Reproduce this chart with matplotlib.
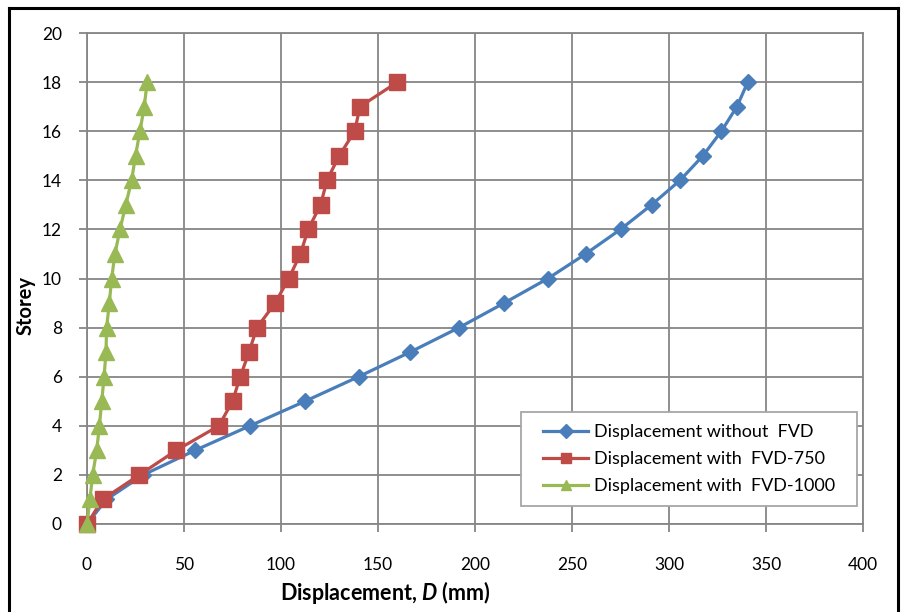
import matplotlib.pyplot as plt
from matplotlib.lines import Line2D
from matplotlib.patches import Rectangle

storey = list(range(19))
disp_none = [0, 10, 29, 55.7, 84, 112.4, 140, 166.5, 191.8, 215, 237.6,
             257, 275, 291, 305.7, 317.5, 327, 335, 340.6]
disp_750 = [0, 8, 27, 46, 68, 75, 79, 83.5, 87.6, 97, 104,
            110, 114, 120.4, 123.7, 130, 138, 140.7, 160]
disp_1000 = [0, 1.5, 2.9, 5, 6.4, 7.6, 8.8, 9.8, 10.1, 11.5, 12.7,
             14.4, 17, 20, 23, 25, 27.3, 29.5, 31]
labels = ['Displacement without  FVD', 'Displacement with  FVD-750',
          'Displacement with  FVD-1000']

plt.rcParams['font.family'] = ['Lato', 'DejaVu Sans']
plt.rcParams['mathtext.fontset'] = 'custom'
plt.rcParams['mathtext.bfit'] = 'Lato:italic:bold'
plt.rcParams['mathtext.rm'] = 'Lato'

fig = plt.figure(figsize=(9.06, 6.12), dpi=100)
ax = fig.add_axes([87 / 906, 1 - 524 / 612, 776 / 906, 491 / 612])

grid_c = '#868686'
ax.plot(disp_none, storey, color='#4A7EBB', lw=2.3, marker='D', ms=8,
        label=labels[0], zorder=3, clip_on=False)
ax.plot(disp_750, storey, color='#BE4B48', lw=2.3, marker='s', ms=11,
        label=labels[1], zorder=4, clip_on=False)
ax.plot(disp_1000, storey, color='#98B954', lw=2.3, marker='^', ms=11,
        label=labels[2], zorder=5, clip_on=False)

ax.set_xlim(0, 400)
ax.set_ylim(0, 20)
ax.set_xticks(range(0, 401, 50))
ax.set_yticks(range(0, 21, 2))
ax.grid(True, color=grid_c, lw=1.3)
ax.set_axisbelow(True)
for s in ax.spines.values():
    s.set_color(grid_c)
    s.set_linewidth(1.3)
ax.tick_params(axis='both', direction='out', length=6, width=1.3, color=grid_c,
               labelsize=12.5, labelcolor='black')
ax.tick_params(axis='x', pad=18)
ax.tick_params(axis='y', pad=12)

ax.set_xlabel('Displacement, $\\mathbfit{D}$ (mm)', fontsize=15.5, fontweight='bold')
ax.xaxis.set_label_coords(0.385, -0.112)
ax.set_ylabel('Storey', fontsize=14.5, fontweight='bold')
ax.yaxis.set_label_coords(-0.066, 0.446)

# legend box drawn separately (Excel pads it more on the sides)
box = Rectangle((0.5593, 0.0367), 0.433, 0.1913, transform=ax.transAxes,
                facecolor='white', edgecolor='#A6A6A6', lw=1.3, zorder=6)
ax.add_patch(box)
leg = ax.legend(loc='center', bbox_to_anchor=(0.7758, 0.1324), fontsize=13,
                frameon=False, handlelength=2.5, borderpad=0, labelspacing=0.6,
                handletextpad=0.3)
leg.set_zorder(7)
for h in leg.legend_handles:
    h.set_markersize(7)

# outer chart border
for xs, ys in [((9, 9), (0, 604)), ((9, 898), (604, 604)), ((898, 898), (604, 0))]:
    fig.add_artist(Line2D([x / 906 for x in xs], [y / 612 for y in ys],
                          color='black', lw=2.2, transform=fig.transFigure))

fig.savefig('out.png', dpi=100)
